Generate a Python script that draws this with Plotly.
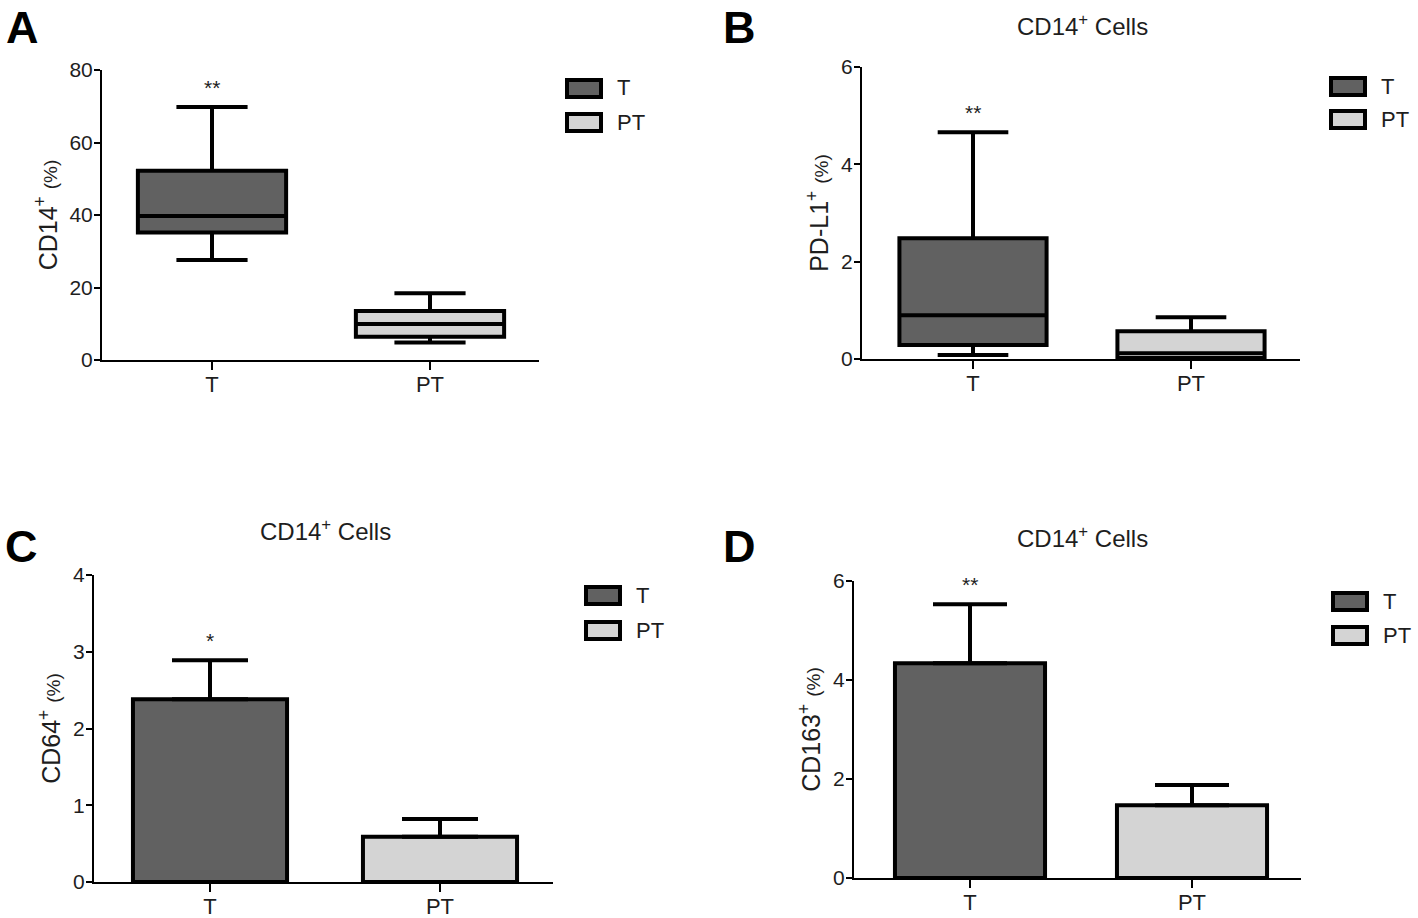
import plotly.graph_objects as go

W, H = 1418, 918

# ---------------- data ----------------
groups = ["T", "PT"]

# Panel A: CD14+ (%) box stats
a_q1 = [35.2, 6.4]
a_median = [39.7, 9.9]
a_q3 = [52.2, 13.5]
a_low = [27.6, 4.8]
a_high = [69.8, 18.4]

# Panel B: PD-L1+ (%) box stats
b_q1 = [0.29, 0.02]
b_median = [0.9, 0.12]
b_q3 = [2.48, 0.57]
b_low = [0.08, 0.0]
b_high = [4.66, 0.86]

# Panel C: CD64+ (%) mean + error
c_mean = [2.38, 0.59]
c_err = [0.51, 0.23]

# Panel D: CD163+ (%) mean + error
d_mean = [4.34, 1.47]
d_err = [1.19, 0.41]

sig_a, sig_b, sig_c, sig_d = "**", "**", "*", "**"

colors = ["#616161", "#d4d4d4"]
FONT = "Liberation Sans, Arial, sans-serif"
TXT = "#1e1e1e"


def px_x(p):
    return p / W


def px_y(p):
    return 1 - p / H


fig = go.Figure()

# ---------------- panels layout (pixel geometry) ----------------
panels = {
    "A": dict(x0=102, x1=539, yt=70, yb=360, yr=[0, 80], c0=212, sp=218, dt=20),
    "B": dict(x0=862, x1=1300, yt=67, yb=359, yr=[0, 6], c0=973, sp=218, dt=2),
    "C": dict(x0=94, x1=553, yt=575, yb=882, yr=[0, 4], c0=210, sp=230, dt=1),
    "D": dict(x0=854, x1=1301, yt=581, yb=878, yr=[0, 6], c0=970, sp=222, dt=2),
}
axis_ids = {"A": ("x", "y"), "B": ("x2", "y2"), "C": ("x3", "y3"), "D": ("x4", "y4")}
ytitles = {
    "A": "CD14<sup>+</sup> <span style='font-size:19px'>(%)</span>",
    "B": "PD-L1<sup>+</sup> <span style='font-size:19px'>(%)</span>",
    "C": "CD64<sup>+</sup> <span style='font-size:19px'>(%)</span>",
    "D": "CD163<sup>+</sup> <span style='font-size:19px'>(%)</span>",
}

# ---------------- traces ----------------
for i, g in enumerate(groups):
    fig.add_trace(go.Box(
        x=[g], q1=[a_q1[i]], median=[a_median[i]], q3=[a_q3[i]],
        lowerfence=[a_low[i]], upperfence=[a_high[i]],
        fillcolor=colors[i], line=dict(color="black", width=4),
        width=0.68, whiskerwidth=0.48, boxpoints=False,
        xaxis="x", yaxis="y", showlegend=False, hoverinfo="skip"))
    fig.add_trace(go.Box(
        x=[g], q1=[b_q1[i]], median=[b_median[i]], q3=[b_q3[i]],
        lowerfence=[b_low[i]], upperfence=[b_high[i]],
        fillcolor=colors[i], line=dict(color="black", width=4),
        width=0.675, whiskerwidth=0.48, boxpoints=False,
        xaxis="x2", yaxis="y2", showlegend=False, hoverinfo="skip"))
    fig.add_trace(go.Bar(
        x=[g], y=[c_mean[i]], width=0.67,
        marker=dict(color=colors[i], line=dict(color="black", width=4)),
        error_y=dict(type="data", symmetric=False, array=[c_err[i]], arrayminus=[0],
                     color="black", thickness=4, width=38),
        xaxis="x3", yaxis="y3", showlegend=False, hoverinfo="skip"))
    fig.add_trace(go.Bar(
        x=[g], y=[d_mean[i]], width=0.676,
        marker=dict(color=colors[i], line=dict(color="black", width=4)),
        error_y=dict(type="data", symmetric=False, array=[d_err[i]], arrayminus=[0],
                     color="black", thickness=4, width=37),
        xaxis="x4", yaxis="y4", showlegend=False, hoverinfo="skip"))

# ---------------- axes ----------------
layout_axes = {}
for name, p in panels.items():
    xa, ya = axis_ids[name]
    xk = "xaxis" if xa == "x" else "xaxis" + xa[1:]
    yk = "yaxis" if ya == "y" else "yaxis" + ya[1:]
    left = -(p["c0"] - p["x0"]) / p["sp"]
    right = 1 + (p["x1"] - (p["c0"] + p["sp"])) / p["sp"]
    layout_axes[xk] = dict(
        domain=[px_x(p["x0"]), px_x(p["x1"])], anchor=ya, automargin=False,
        type="category", categoryorder="array", categoryarray=groups,
        range=[left, right], showline=True, linecolor="black", linewidth=2,
        ticks="outside", ticklen=8, tickwidth=2, tickcolor="black",
        ticklabelstandoff=-4,
        showgrid=False, zeroline=False, fixedrange=True,
        tickfont=dict(family=FONT, size=22, color=TXT))
    layout_axes[yk] = dict(
        domain=[px_y(p["yb"]), px_y(p["yt"])], anchor=xa, automargin=False,
        range=p["yr"], dtick=p["dt"], showline=True, linecolor="black", linewidth=2,
        ticks="outside", ticklen=6, tickwidth=2, tickcolor="black",
        ticklabelstandoff=-3,
        showgrid=False, zeroline=False, fixedrange=True,
        tickfont=dict(family=FONT, size=21, color=TXT),
        title=dict(text=ytitles[name], font=dict(family=FONT, size=25, color=TXT),
                   standoff=5))

fig.update_layout(**layout_axes)

annotations = []
shapes = []

# panel letters
letters = {"A": (4, 0), "B": (721, 0), "C": (3, 519), "D": (721, 519)}
for k, (lx, ly) in letters.items():
    annotations.append(dict(text="<b>%s</b>" % k, x=px_x(lx), y=px_y(ly), xref="paper", yref="paper",
                            xanchor="left", yanchor="top", showarrow=False,
                            font=dict(family=FONT, size=45, color="black")))

# panel titles
titles = {"B": (1082, 25), "C": (325, 530), "D": (1082, 537)}
for k, (tx, ty) in titles.items():
    annotations.append(dict(text="CD14<sup>+</sup> Cells", x=px_x(tx), y=px_y(ty), xref="paper", yref="paper",
                            xanchor="center", yanchor="middle", showarrow=False,
                            font=dict(family=FONT, size=24, color=TXT)))

# significance marks
sig = [("x", "y", sig_a, a_high[0]), ("x2", "y2", sig_b, b_high[0]),
       ("x3", "y3", sig_c, c_mean[0] + c_err[0]), ("x4", "y4", sig_d, d_mean[0] + d_err[0])]
for xa, ya, s, top in sig:
    annotations.append(dict(text=s, x="T", y=top, xref=xa, yref=ya, xanchor="center", yanchor="bottom",
                            yshift=6, showarrow=False, font=dict(family=FONT, size=21, color=TXT)))

# legends (swatch + label)
legends = {"A": (567, 80, 114), "B": (1331, 78, 111), "C": (586, 587, 622), "D": (1333, 593, 627)}
for k, (lx, y1, y2) in legends.items():
    for i, (g, yy) in enumerate(zip(groups, [y1, y2])):
        shapes.append(dict(type="rect", xref="paper", yref="paper",
                           x0=px_x(lx), x1=px_x(lx + 34), y0=px_y(yy + 17), y1=px_y(yy),
                           fillcolor=colors[i], line=dict(color="black", width=4)))
        annotations.append(dict(text=g, x=px_x(lx + 48), y=px_y(yy + 8), xref="paper", yref="paper",
                                xanchor="left", yanchor="middle", showarrow=False,
                                font=dict(family=FONT, size=22, color=TXT)))

fig.update_layout(
    width=W, height=H, margin=dict(l=0, r=0, t=0, b=0, autoexpand=False),
    paper_bgcolor="white", plot_bgcolor="white",
    boxmode="overlay", barmode="overlay",
    annotations=annotations, shapes=shapes, showlegend=False,
    font=dict(family=FONT))

fig.write_html("out.html", config={"displayModeBar": False},
               post_script="document.body.style.margin='0';document.body.style.overflow='hidden';")
